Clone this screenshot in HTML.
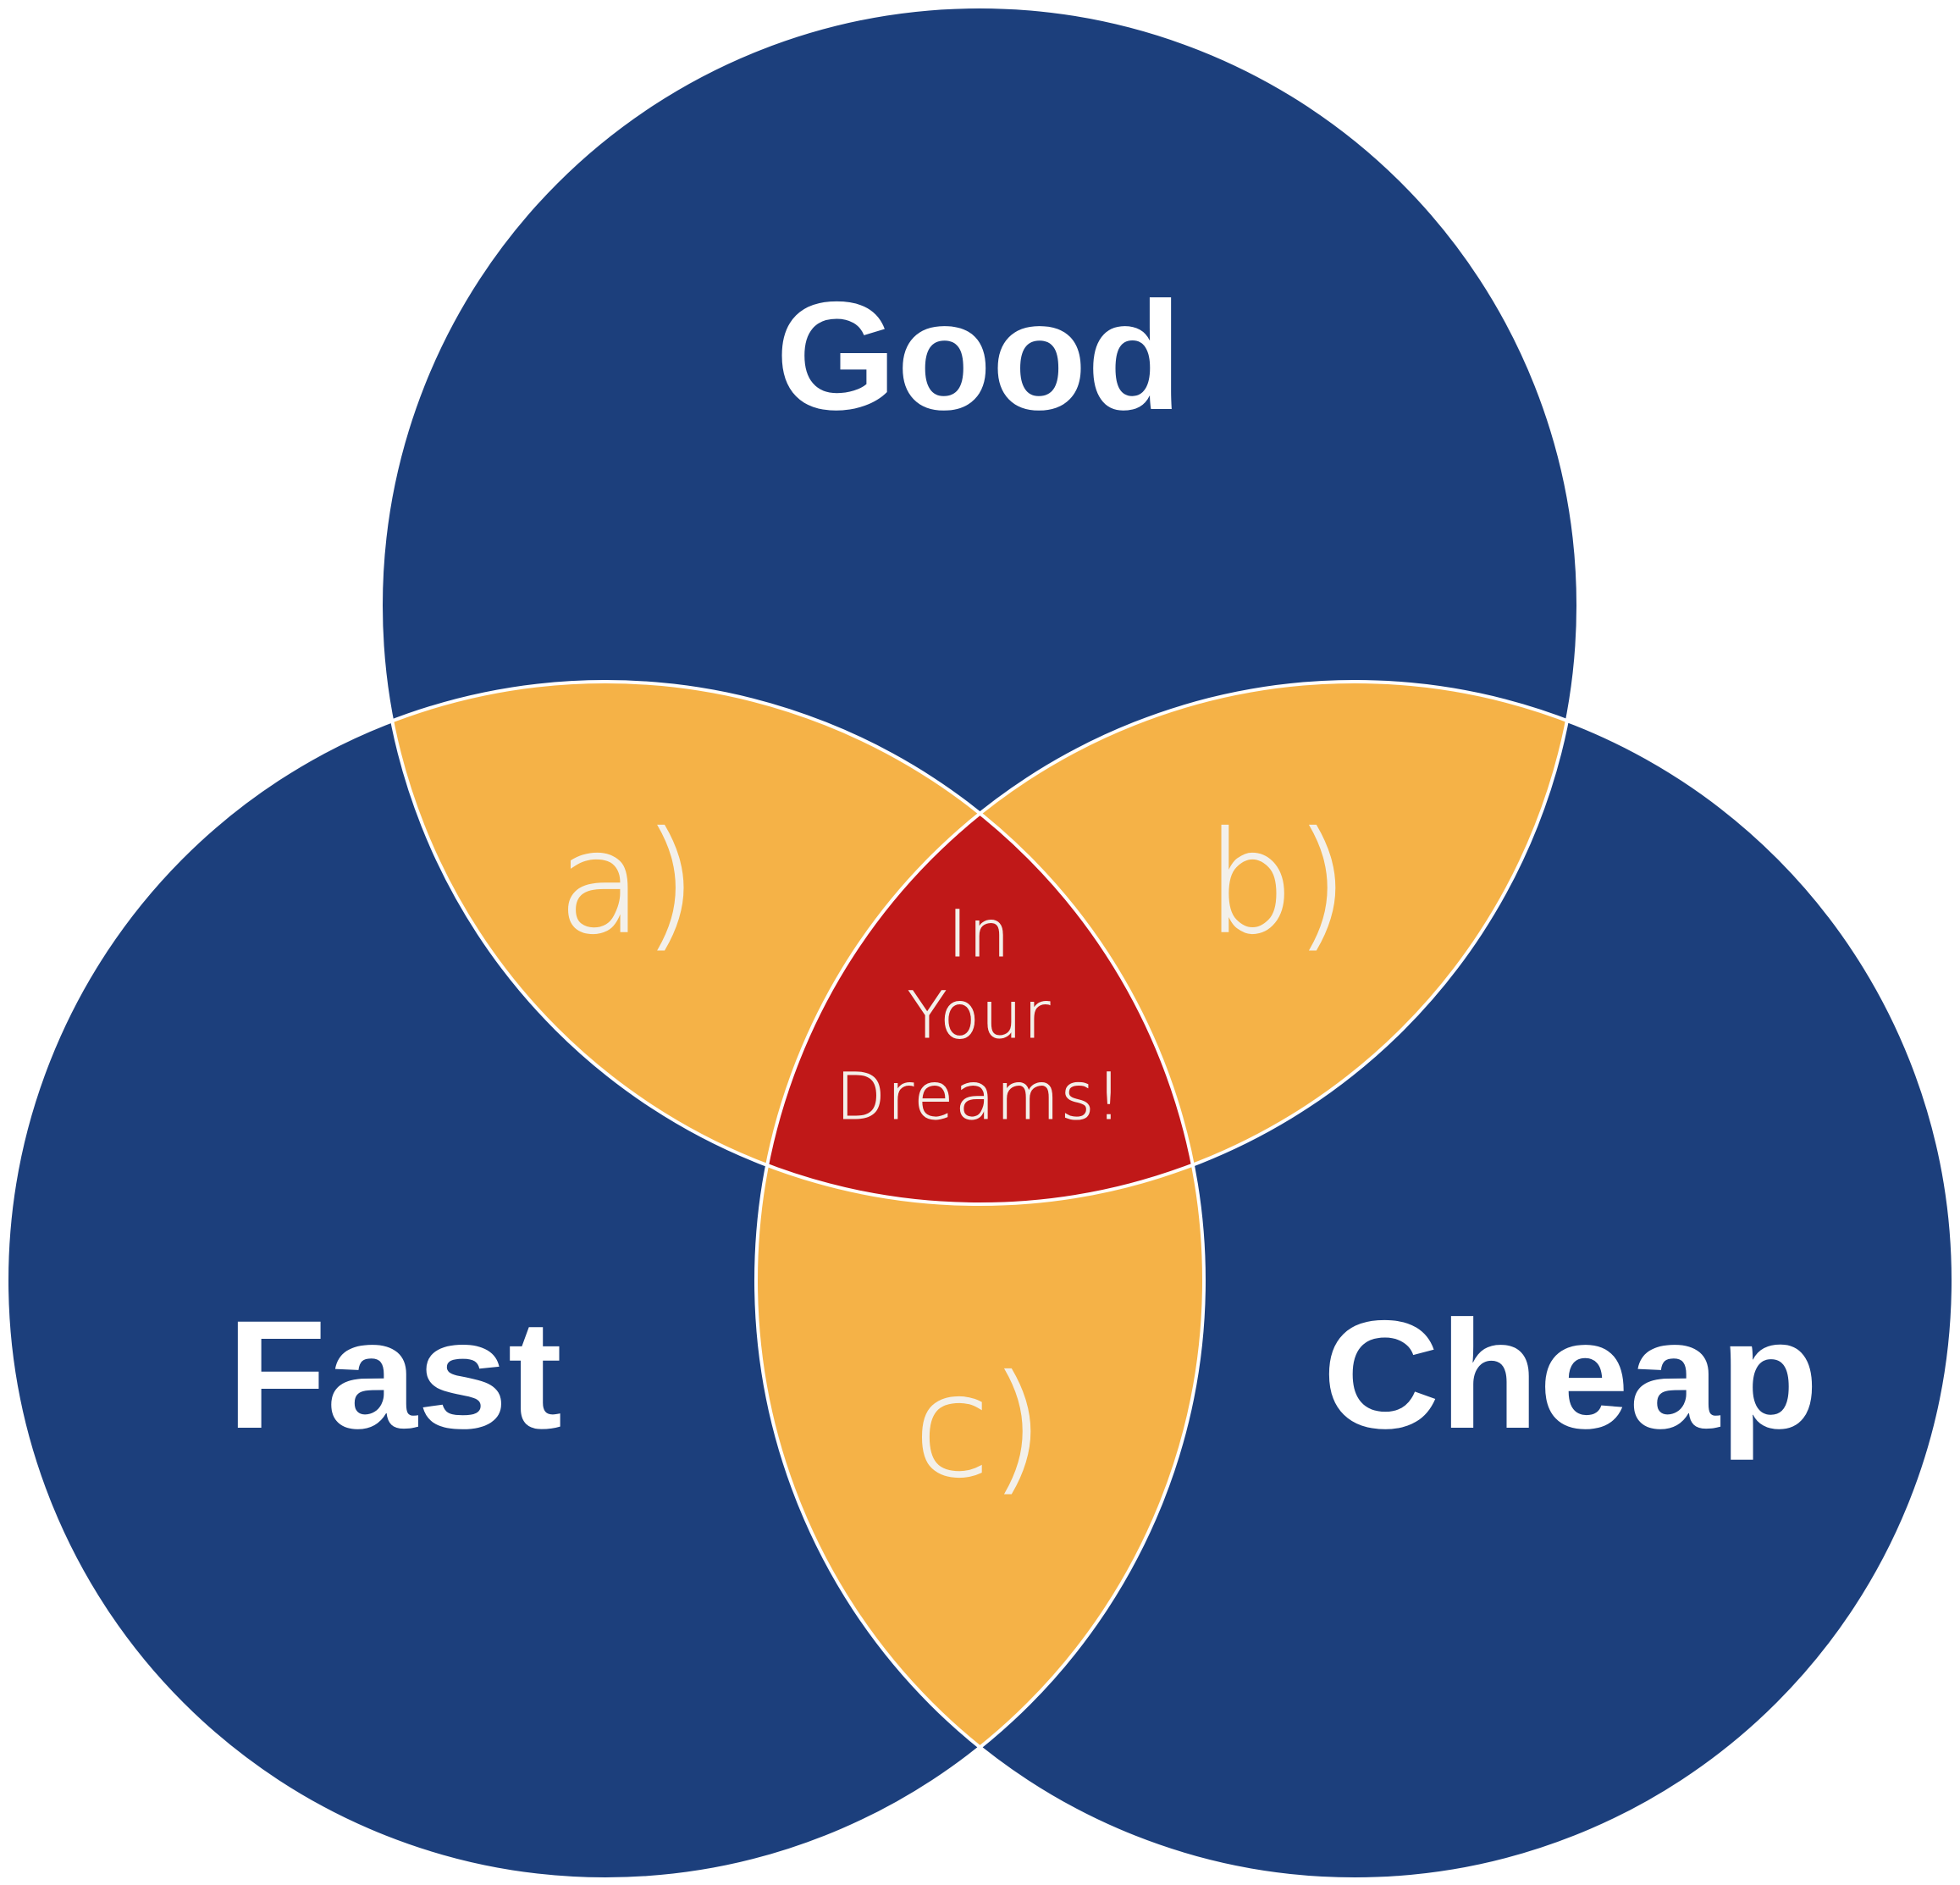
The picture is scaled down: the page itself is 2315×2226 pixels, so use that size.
<!DOCTYPE html>
<html><head><meta charset="utf-8"><style>
html,body{margin:0;padding:0;background:#fff;}
svg{display:block;}
</style></head><body>
<svg width="2315" height="2226" viewBox="0 0 2315 2226" xmlns="http://www.w3.org/2000/svg">
<defs>
<clipPath id="cT"><circle cx="1157" cy="715" r="707"/></clipPath>
<clipPath id="cL"><circle cx="715" cy="1512" r="707"/></clipPath>
<clipPath id="cR"><circle cx="1600" cy="1512" r="707"/></clipPath>
</defs>
<rect width="2315" height="2226" fill="#fff"/>
<g fill="#1c3f7c">
<circle cx="1157" cy="715" r="707"/>
<circle cx="715" cy="1512" r="707"/>
<circle cx="1600" cy="1512" r="707"/>
</g>
<g fill="#f5b247">
<g clip-path="url(#cT)"><circle cx="715" cy="1512" r="707"/><circle cx="1600" cy="1512" r="707"/></g>
<g clip-path="url(#cL)"><circle cx="1600" cy="1512" r="707"/></g>
</g>
<g clip-path="url(#cT)"><g clip-path="url(#cL)"><circle cx="1600" cy="1512" r="707" fill="#c01818"/></g></g>
<g fill="none" stroke="#fff" stroke-width="4">
<circle cx="1157" cy="715" r="707"/>
<circle cx="715" cy="1512" r="707"/>
<circle cx="1600" cy="1512" r="707"/>
</g>
<g font-family="Liberation Sans, sans-serif" font-weight="900" fill="#fff" font-size="182">
<text x="916" y="483" textLength="480" lengthAdjust="spacingAndGlyphs">Good</text>
<text x="268" y="1686" textLength="396" lengthAdjust="spacingAndGlyphs">Fast</text>
<text x="1562" y="1686" textLength="586" lengthAdjust="spacingAndGlyphs">Cheap</text>
</g>
<g font-family="DejaVu Sans, Liberation Sans, sans-serif" font-weight="200" fill="#f3f0ea" stroke="#f3f0ea" stroke-width="1.5" font-size="165" text-anchor="middle">
<text x="741" y="1100">a)</text>
<text x="1509" y="1100">b)</text>
<text x="1156" y="1742">c)</text>
</g>
<g font-family="DejaVu Sans, Liberation Sans, sans-serif" font-weight="200" fill="#f3f0ea" stroke="#f3f0ea" stroke-width="1" font-size="76" text-anchor="middle" letter-spacing="2">
<text x="1157" y="1129">In</text>
<text x="1157" y="1225">Your</text>
<text x="1157" y="1321">Dreams!</text>
</g>
</svg>
</body></html>
